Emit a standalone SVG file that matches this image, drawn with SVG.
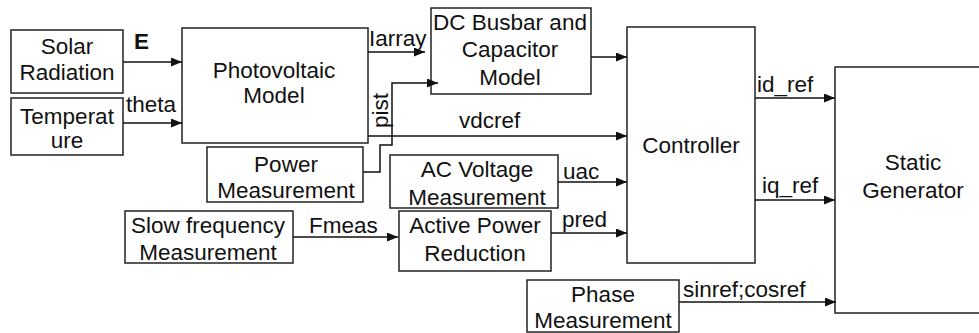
<svg xmlns="http://www.w3.org/2000/svg" width="979" height="333" viewBox="0 0 979 333">
<style>
.box{fill:#fff;stroke:#222;stroke-width:1.5}
.t{font-family:"Liberation Sans",Arial,sans-serif;font-size:22.5px;fill:#111;text-anchor:middle}
.l{font-family:"Liberation Sans",Arial,sans-serif;font-size:22.5px;fill:#111}
.c{fill:none;stroke:#111;stroke-width:1.5}
</style>
<defs>
<marker id="ah" markerUnits="userSpaceOnUse" markerWidth="11" markerHeight="9" refX="11" refY="4.5" orient="auto">
<path d="M0,0 L11,4.5 L0,9 z" fill="#111"/>
</marker>
</defs>
<rect width="979" height="333" fill="#fff"/>
<g id="solar"><rect class="box" x="11" y="30" width="112" height="63"/><text class="t" x="67" y="54">Solar</text><text class="t" x="67" y="80">Radiation</text></g>
<g id="temperature"><rect class="box" x="11" y="98" width="112" height="57"/><text class="t" x="67" y="124">Temperat</text><text class="t" x="67" y="148">ure</text></g>
<g id="pv"><rect class="box" x="182" y="28" width="186" height="115"/><text class="t" x="274" y="78">Photovoltaic</text><text class="t" x="274" y="103">Model</text></g>
<g id="dcbus"><rect class="box" x="431" y="8" width="160" height="86"/><text class="t" x="510" y="30">DC Busbar and</text><text class="t" x="510" y="57">Capacitor</text><text class="t" x="510" y="85">Model</text></g>
<g id="power"><rect class="box" x="207" y="147" width="156" height="55"/><text class="t" x="286" y="172">Power</text><text class="t" x="286" y="198">Measurement</text></g>
<g id="slowfreq"><rect class="box" x="125" y="211" width="168" height="52"/><text class="t" x="208" y="233">Slow frequency</text><text class="t" x="208" y="260">Measurement</text></g>
<g id="acvoltage"><rect class="box" x="390" y="155" width="168" height="53"/><text class="t" x="477" y="177">AC Voltage</text><text class="t" x="477" y="205">Measurement</text></g>
<g id="activepower"><rect class="box" x="399" y="211" width="152" height="60"/><text class="t" x="475" y="233">Active Power</text><text class="t" x="475" y="261">Reduction</text></g>
<g id="controller"><rect class="box" x="627" y="27" width="128" height="236"/><text class="t" x="691" y="153">Controller</text></g>
<g id="phase"><rect class="box" x="527" y="280" width="152" height="52"/><text class="t" x="603" y="302">Phase</text><text class="t" x="603" y="328">Measurement</text></g>
<g id="static"><rect class="box" x="835" y="67" width="160" height="246"/><text class="t" x="913" y="170">Static</text><text class="t" x="913" y="198">Generator</text></g>
<g id="connectors">
<path class="c" d="M123,62 H182" marker-end="url(#ah)"/>
<path class="c" d="M123,123 H182" marker-end="url(#ah)"/>
<path class="c" d="M368,52 H425" marker-end="url(#ah)"/>
<path class="c" d="M363,172 H380 V145 H392 V83 H438" marker-end="url(#ah)"/>
<path class="c" d="M368,136 H627" marker-end="url(#ah)"/>
<path class="c" d="M591,57 H627" marker-end="url(#ah)"/>
<path class="c" d="M558,182 H627" marker-end="url(#ah)"/>
<path class="c" d="M551,233 H627" marker-end="url(#ah)"/>
<path class="c" d="M293,237 H398" marker-end="url(#ah)"/>
<path class="c" d="M755,98 H835" marker-end="url(#ah)"/>
<path class="c" d="M755,200 H835" marker-end="url(#ah)"/>
<path class="c" d="M679,302 H836" marker-end="url(#ah)"/>
</g>
<g id="labels">
<text class="l" x="134" y="49" font-weight="bold">E</text>
<text class="l" x="126" y="112">theta</text>
<text class="l" x="369" y="46">Iarray</text>
<text class="l" transform="translate(388,128) rotate(-90)">pist</text>
<text class="l" x="459" y="128">vdcref</text>
<text class="l" x="563" y="179">uac</text>
<text class="l" x="562" y="227">pred</text>
<text class="l" x="309" y="233">Fmeas</text>
<text class="l" x="757" y="92">id_ref</text>
<text class="l" x="762" y="193">iq_ref</text>
<text class="l" x="683" y="297">sinref;cosref</text>
</g>
</svg>
